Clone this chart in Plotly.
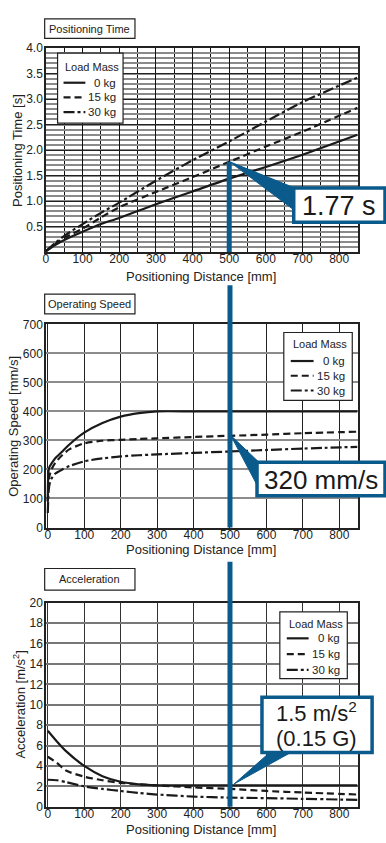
import plotly.graph_objects as go

W, H = 386, 843

# ---------------- data ----------------
dist_time = [0, 25, 50, 100, 150, 200, 300, 400, 500, 600, 700, 850]
time_0kg = [0.02, 0.14, 0.24, 0.40, 0.55, 0.67, 0.94, 1.19, 1.44, 1.67, 1.91, 2.30]
time_15kg = [0.02, 0.16, 0.28, 0.46, 0.68, 0.88, 1.18, 1.47, 1.77, 2.07, 2.36, 2.83]
time_30kg = [0.02, 0.18, 0.32, 0.55, 0.77, 0.97, 1.40, 1.80, 2.17, 2.56, 2.94, 3.42]

dist_speed = [0, 2, 5, 10, 20, 40, 60, 100, 150, 200, 250, 300, 400, 500, 600, 700, 850]
speed_0kg = [90, 195, 210, 220, 238, 262, 287, 327, 360, 382, 394, 400, 400, 400, 400, 400, 400]
speed_15kg = [90, 150, 180, 200, 222, 250, 270, 290, 299, 302, 305, 307, 312, 316, 320, 325, 330]
speed_30kg = [50, 120, 150, 168, 185, 200, 212, 228, 238, 245, 249, 252, 257, 262, 267, 272, 278]

dist_acc = [0, 25, 50, 100, 150, 200, 250, 300, 400, 500, 600, 700, 850]
acc_0kg = [7.45, 6.4, 5.45, 4.0, 3.0, 2.45, 2.2, 2.1, 2.1, 2.1, 2.1, 2.1, 2.1]
acc_15kg = [4.9, 4.3, 3.55, 2.95, 2.6, 2.35, 2.2, 2.1, 1.9, 1.75, 1.55, 1.4, 1.2]
acc_30kg = [2.65, 2.6, 2.42, 2.0, 1.75, 1.55, 1.35, 1.2, 1.0, 0.9, 0.85, 0.78, 0.68]

series_names = ["0 kg", "15 kg", "30 kg"]
x_ticks = [0, 100, 200, 300, 400, 500, 600, 700, 800]
time_ticks = [0.5, 1.0, 1.5, 2.0, 2.5, 3.0, 3.5, 4.0]
speed_ticks = [0, 100, 200, 300, 400, 500, 600, 700]
acc_ticks = [0, 2, 4, 6, 8, 10, 12, 14, 16, 18, 20]

callout_x = 500
callout_time = 1.77
callout_speed = 320

# ---------------- styling helpers ----------------
BLUE = "#0b5a8c"
INK = "#1a1a1a"
SANS = "Liberation Sans, Arial, Helvetica, sans-serif"
DASHES = ["solid", "7px,4px", "11px,3px,3px,3px"]


def px(x):
    return x / W


def py(y):
    return 1 - y / H


X_DOM = [px(43.3), px(357.3)]
Y_DOMS = {
    "top": [py(249.3), py(41.7)],
    "mid": [py(529.3), py(322.7)],
    "bot": [py(813.3), py(605.7)],
}

fig = go.Figure()

panels = [
    ("x", "y", dist_time, [time_0kg, time_15kg, time_30kg]),
    ("x2", "y2", dist_speed, [speed_0kg, speed_15kg, speed_30kg]),
    ("x3", "y3", dist_acc, [acc_0kg, acc_15kg, acc_30kg]),
]
for xa, ya, xs, ys_list in panels:
    for name, ys, dash in zip(series_names, ys_list, DASHES):
        fig.add_trace(go.Scatter(
            x=xs, y=ys, mode="lines", name=name, xaxis=xa, yaxis=ya,
            line=dict(color=INK, width=2.2, dash=dash, shape="spline", smoothing=0.7),
            showlegend=False, hoverinfo="skip"))

tickfont = dict(family=SANS, size=12, color="#222")
axis_common = dict(showline=True, mirror=True, linecolor="#222", linewidth=1.5,
                   ticks="", ticklen=0, tickfont=tickfont, zeroline=False)
xcommon = dict(axis_common, ticklabelstandoff=-5)
ycommon = dict(axis_common, ticklabelstandoff=-1)

fig.update_layout(
    width=W, height=H, margin=dict(l=0, r=0, t=0, b=0),
    paper_bgcolor="white", plot_bgcolor="white", showlegend=False,
    # top panel
    xaxis=dict(domain=X_DOM, anchor="y", range=[0, 850], tickmode="array", tickvals=x_ticks,
               showgrid=True, gridcolor="#111", gridwidth=1.2,
               minor=dict(tickmode="linear", tick0=0, dtick=50, showgrid=True,
                          gridcolor="#111", gridwidth=1.2, ticks=""),
               **xcommon),
    yaxis=dict(domain=Y_DOMS["top"], anchor="x", range=[0, 4], tickmode="array",
               tickvals=time_ticks, ticktext=[f"{v:.1f}" for v in time_ticks],
               showgrid=True, gridcolor="#222", gridwidth=1.2,
               minor=dict(tickmode="linear", tick0=0, dtick=0.1, showgrid=True,
                          gridcolor="#8a8a8a", gridwidth=1.5, ticks=""),
               **ycommon),
    # middle panel
    xaxis2=dict(domain=X_DOM, anchor="y2", range=[-5, 850], tickmode="array", tickvals=x_ticks,
                showgrid=True, gridcolor="#222", gridwidth=1.2, **xcommon),
    yaxis2=dict(domain=Y_DOMS["mid"], anchor="x2", range=[0, 700], tickmode="array",
                tickvals=speed_ticks, showgrid=True, gridcolor="#8c8c8c", gridwidth=1.5,
                **ycommon),
    # bottom panel
    xaxis3=dict(domain=X_DOM, anchor="y3", range=[-5, 850], tickmode="array", tickvals=x_ticks,
                showgrid=True, gridcolor="#333", gridwidth=1.2, **xcommon),
    yaxis3=dict(domain=Y_DOMS["bot"], anchor="x3", range=[0, 20], tickmode="array",
                tickvals=acc_ticks, showgrid=True, gridcolor="#777", gridwidth=1.5,
                **ycommon),
)

shapes = []
annotations = []


def text(x, y, s, size=13, family=SANS, xanchor="center", yanchor="middle", angle=0, color="#222"):
    annotations.append(dict(x=px(x), y=py(y), xref="paper", yref="paper", text=s,
                            showarrow=False, xanchor=xanchor, yanchor=yanchor,
                            textangle=angle, font=dict(family=family, size=size, color=color)))


def rect(x0, y0, x1, y1, color="#222", width=1.2, fill="white"):
    shapes.append(dict(type="rect", xref="paper", yref="paper", x0=px(x0), x1=px(x1),
                       y0=py(y0), y1=py(y1), line=dict(color=color, width=width),
                       fillcolor=fill, layer="above"))


# panel title boxes
for (y0, y1, label) in [(12, 32, "Positioning Time"), (292, 312, "Operating Speed"),
                        (571, 593, "Acceleration")]:
    rect(42, y0, 133, y1)
    text(87.5, (y0 + y1) / 2, label, size=11)

# axis titles
text(200, 274, "Positioning Distance [mm]", size=13)
text(200, 552, "Positioning Distance [mm]", size=13)
text(200, 836, "Positioning Distance [mm]", size=13)
text(14, 145.5, "Positioning Time [s]", size=13, angle=-90)
text(11, 426, "Operating Speed [mm/s]", size=13, angle=-90)
text(16, 709.5, "Acceleration [m/s<sup>2</sup>]", size=13, angle=-90)

# legends
legend_boxes = [
    dict(box=(55, 47, 121, 118), head=(60, 61), rows=[77, 92, 107], sample=(61, 83), tx=116),
    dict(box=(283, 331, 352, 400), head=(290, 343), rows=[360, 375, 390], sample=(290, 313), tx=347),
    dict(box=(279, 615, 347, 683), head=(286, 627), rows=[642, 658, 674], sample=(286, 308), tx=342),
]
for lg in legend_boxes:
    x0, y0, x1, y1 = lg["box"]
    rect(x0, y0, x1, y1)
    text(lg["head"][0], lg["head"][1], "Load Mass", size=11, xanchor="left")
    for ry, name, dash in zip(lg["rows"], series_names, DASHES):
        shapes.append(dict(type="line", xref="paper", yref="paper",
                           x0=px(lg["sample"][0]), x1=px(lg["sample"][1]), y0=py(ry), y1=py(ry),
                           line=dict(color=INK, width=2.2, dash=dash), layer="above"))
        text(lg["tx"], ry, name, size=11.5, xanchor="right")

# blue marker line at 500 mm
shapes.append(dict(type="line", xref="x", yref="y", x0=callout_x, x1=callout_x,
                   y0=0, y1=callout_time, line=dict(color=BLUE, width=5), layer="above"))
shapes.append(dict(type="line", xref="x2", yref="paper", x0=callout_x, x1=callout_x,
                   y0=py(529.3), y1=py(283), line=dict(color=BLUE, width=5), layer="above"))
shapes.append(dict(type="line", xref="x3", yref="paper", x0=callout_x, x1=callout_x,
                   y0=py(813.3), y1=py(564), line=dict(color=BLUE, width=5), layer="above"))


def poly(points):
    path = "M " + " L ".join(f"{px(x):.5f},{py(y):.5f}" for x, y in points) + " Z"
    shapes.append(dict(type="path", xref="paper", yref="paper", path=path,
                       fillcolor=BLUE, line=dict(color=BLUE, width=1), layer="above"))


# callouts
poly([(228.5, 157.4), (294, 184), (294, 207)])
rect(293, 184, 385, 219, color=BLUE, width=3.5)
text(339, 202, "1.77 s", size=27, color="#1a1a1a")

poly([(229.5, 435.5), (258, 463), (257, 488)])
rect(256, 463, 385, 497, color=BLUE, width=3.5)
text(320.5, 481, "320 mm/s", size=26, color="#1a1a1a")

poly([(233, 790), (270, 757), (292, 757)])
rect(261, 702, 372, 758, color=BLUE, width=3.5)
text(316, 716.5, "1.5 m/s<sup>2</sup>", size=22, color="#1a1a1a")
text(316, 744, "(0.15 G)", size=22, color="#1a1a1a")

fig.update_layout(shapes=shapes, annotations=annotations)
fig.write_html("out.html")
